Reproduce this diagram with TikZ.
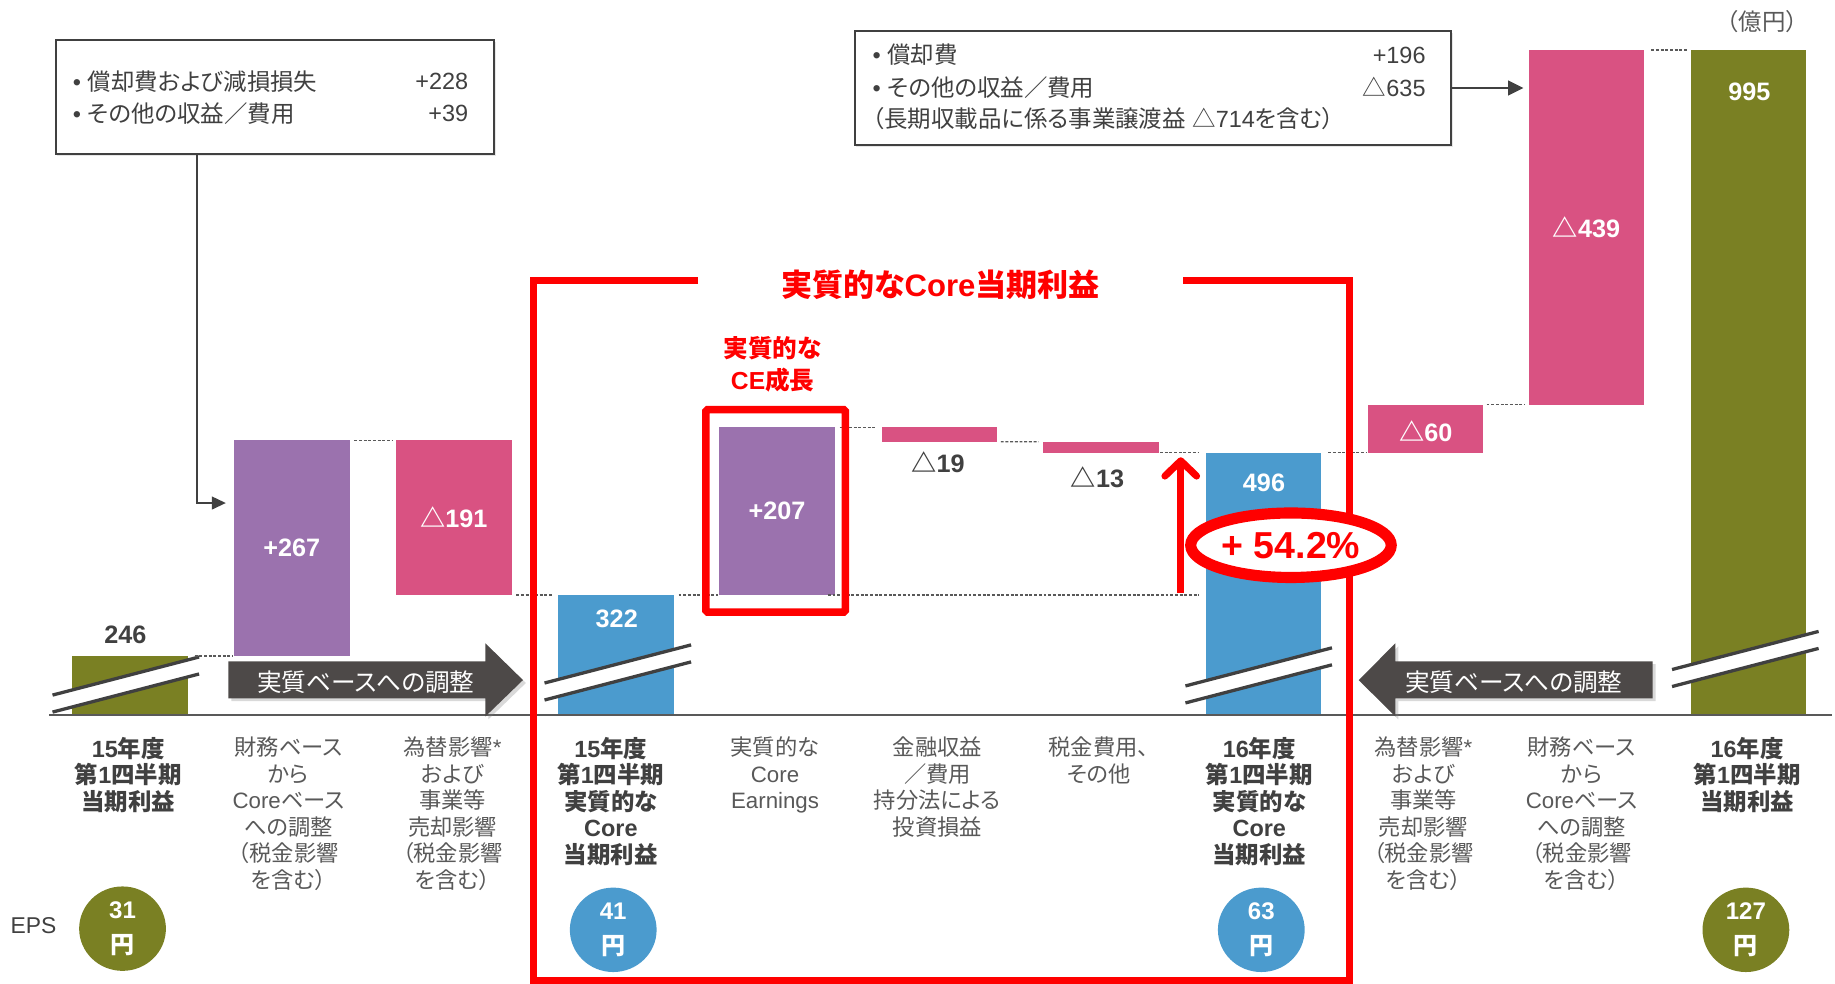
\documentclass[tikz,border=0pt]{standalone}
\usepackage{fontspec}
\setmainfont{Liberation Sans}
\newfontfamily\jpfont{Noto Sans CJK JP}[RawFeature=+palt]
\newfontfamily\jpfull{Noto Sans CJK JP}
\XeTeXinterchartokenstate=1
\newXeTeXintercharclass\cjkcls
\newcount\cjkc
\cjkc="2E80
\loop \XeTeXcharclass\cjkc=\cjkcls \advance\cjkc by 1 \ifnum\cjkc<"A000 \repeat
\cjkc="FF00
\loop \XeTeXcharclass\cjkc=\cjkcls \advance\cjkc by 1 \ifnum\cjkc<"FFF0 \repeat
\cjkc="25A0
\loop \XeTeXcharclass\cjkc=\cjkcls \advance\cjkc by 1 \ifnum\cjkc<"2600 \repeat
\XeTeXinterchartoks 0 \cjkcls={\jpfont}
\XeTeXinterchartoks 4095 \cjkcls={\jpfont}
\XeTeXinterchartoks \cjkcls 0={\rmfamily}
\XeTeXinterchartoks \cjkcls 4095={\rmfamily}
\usetikzlibrary{arrows.meta,shapes.geometric,shadows}
\definecolor{cOlive}{RGB}{122,128,35}
\definecolor{cPurple}{RGB}{155,114,174}
\definecolor{cPink}{RGB}{217,82,130}
\definecolor{cBlue}{RGB}{75,155,206}
\definecolor{cArrow}{RGB}{77,73,72}
\definecolor{cDark}{RGB}{64,64,64}
\definecolor{cText}{RGB}{89,89,89}
\definecolor{cRed}{RGB}{255,0,0}
\newcommand\fs[2]{\fontsize{#1}{#2}\selectfont}
\newcommand\brkmark[2]{%
  \fill[white] (#1,#2) -- ++(125,-32.5) -- ++(0,14.5) -- ++(-125,32.5) -- cycle;
  \draw[brkline] (#1,#2) -- ++(125,-32.5);
  \draw[brkline] (#1,#2+14.5) -- ++(125,-32.5);
}
\begin{document}
\begin{tikzpicture}[x=1pt,y=-1pt,
  bar/.style={rectangle, inner sep=0pt, outer sep=0pt, minimum width=98.5pt, anchor=south west},
  vlab/.style={text=white, font=\bfseries\fs{21.5}{24}, inner sep=0pt},
  dlab/.style={text=cDark, font=\bfseries\fs{21.5}{24}, inner sep=0pt},
  dline/.style={draw=cText, line width=1.1pt, dash pattern=on 2.5pt off 1.5pt},
  brkline/.style={draw=cDark, line width=2.8pt},
  cat/.style={align=center, anchor=north, inner sep=0pt, text=cText, font=\fs{19}{22.6}},
  catb/.style={cat, text=cDark, font=\bfseries\fs{20}{22.6}},
  epsc/.style={ellipse, minimum width=74pt, minimum height=72pt, inner sep=0pt, text=white, font=\bfseries\fs{20.5}{29.5}, align=center},
  abox/.style={draw=cDark, line width=1.7pt, inner sep=0pt, fill=white, anchor=north west,
     drop shadow={opacity=0.2, shadow xshift=1.5pt, shadow yshift=-1.5pt}},
  btxt/.style={text=cDark, font=\fs{20}{24}, inner sep=0pt},
  gline/.style={draw=cDark, line width=1.5pt},
  arrtxt/.style={text=white, font=\fs{21}{24}, inner sep=0pt},
  redline/.style={draw=cRed, line width=6.2pt},
]
\useasboundingbox (0,0) rectangle (1565,838.4);

% annotation boxes
\node[abox, minimum width=374pt, minimum height=97.3pt] (lbox) at (46.5,33.5) {};
\node[btxt, anchor=west] (l1) at (62,69.7) {• 償却費および減損損失};
\node[btxt, anchor=east] (l1v) at (399.5,69.7) {+228};
\node[btxt, anchor=west] (l2) at (62,96.6) {• その他の収益／費用};
\node[btxt, anchor=east] (l2v) at (399.5,96.6) {+39};

\node[abox, minimum width=508.7pt, minimum height=97.2pt] (rbox) at (728,25.6) {};
\node[btxt, anchor=west] (r1) at (744,47) {• 償却費};
\node[btxt, anchor=east] (r1v) at (1216,47) {+196};
\node[btxt, anchor=west] (r2) at (744,74.5) {• その他の収益／費用};
\node[btxt, anchor=east] (r2v) at (1216,74.5) {△635};
\node[btxt, anchor=west] (r3) at (744,101) {（長期収載品に係る事業譲渡益 △714を含む）};

\node[text=cText, font=\fs{20}{24}, inner sep=0pt] (unit) at (1503,18) {\let\jpfont\jpfull （億円）};

% bars
\node[bar, fill=cOlive,  minimum height=50.5pt]  (b0) at (61.5,610) {};
\node[bar, fill=cPurple, minimum height=184pt]   (b1) at (199.6,559.5) {};
\node[bar, fill=cPink,   minimum height=132pt]   (b2) at (337.8,507.5) {};
\node[bar, fill=cBlue,   minimum height=102.5pt] (b3) at (476.2,610) {};
\node[bar, fill=cPurple, minimum height=143pt]   (b4) at (613.5,507.5) {};
\node[bar, fill=cPink,   minimum height=12.2pt]  (b5) at (752,376.7) {};
\node[bar, fill=cPink,   minimum height=9.3pt]   (b6) at (889.8,386) {};
\node[bar, fill=cBlue,   minimum height=224pt]   (b7) at (1028.3,610) {};
\node[bar, fill=cPink,   minimum height=41pt]    (b8) at (1166.3,386) {};
\node[bar, fill=cPink,   minimum height=302.4pt] (b9) at (1303.8,345) {};
\node[bar, fill=cOlive,  minimum height=567.4pt] (b10) at (1442,610) {};

% break marks
\brkmark{44.8}{592.8}
\brkmark{464.4}{582.5}
\brkmark{1011}{585}
\brkmark{1426}{571}

% axis
\draw[draw=cText, line width=1.8pt] (42,610) -- (1562,610);

% dashed connectors
\draw[dline, shorten <=6pt, shorten >=1pt] (b0.north east) -- (b1.south west);
\draw[dline, shorten <=4pt, shorten >=3pt] (b1.north east) -- (b2.north west);
\draw[dline, shorten <=4pt, shorten >=4pt] (b2.south east) -- (b3.north west);
\draw[dline, shorten <=4pt, shorten >=1pt] (b3.north east) -- (b4.south west);
\draw[dline, shorten <=-6pt, shorten >=6pt] (b4.south east) -- (b4.south east -| b7.west);
\draw[dline, shorten <=4pt, shorten >=6pt] (b4.north east) -- (b5.north west);
\draw[dline, shorten <=3pt, shorten >=4pt] (b5.south east) -- (b6.north west);
\draw[dline, shorten <=1pt, shorten >=6pt] (b6.south east) -- (b7.north west);
\draw[dline, shorten <=6pt, shorten >=1pt] (b7.north east) -- (b8.south west);
\draw[dline, shorten <=3pt, shorten >=3pt] (b8.north east) -- (b9.south west);
\draw[dline, shorten <=6pt, shorten >=3pt] (b9.north east) -- (b10.north west);

% bar values
\node[dlab] (v0) at (107,541) {246};
\node[vlab] (v1) at (b1.center) {+267};
\node[vlab] (v2) at (b2.center) {△191};
\node[vlab] (v3) at (526,527.5) {322};
\node[vlab] (v4) at (b4.center) {+207};
\node[dlab] (v5) at (800,394) {△19};
\node[dlab] (v6) at (936,407) {△13};
\node[vlab] (v7) at (1078,412) {496};
\node[vlab] (v8) at (1216,368) {△60};
\node[vlab] (v9) at (b9.center) {△439};
\node[vlab] (v10) at (1492,78) {995};

% adjustment arrows
\fill[cArrow, drop shadow={opacity=0.3, shadow xshift=2.5pt, shadow yshift=-2.5pt}]
  (194.8,564) -- (414,564) -- (414,548.7) -- (446,580) -- (414,611) -- (414,595.5) -- (194.8,595.5) -- cycle;
\node[arrtxt] (adjL) at (312,582) {実質ベースへの調整};
\fill[cArrow, drop shadow={opacity=0.3, shadow xshift=2.5pt, shadow yshift=-2.5pt}]
  (1409.5,564) -- (1190,564) -- (1190,548.7) -- (1158.8,580) -- (1190,611) -- (1190,595.5) -- (1409.5,595.5) -- cycle;
\node[arrtxt] (adjR) at (1291,582) {実質ベースへの調整};

% annotation connectors
\draw[gline, -{Triangle[length=12pt,width=11pt]}, shorten >=7pt]
  ([xshift=121.5pt]lbox.south west) |- ([yshift=38.5pt]b1.west);
\draw[gline, -{Triangle[length=13pt,width=12.5pt]}, shorten >=4.5pt]
  (rbox.east) -- (rbox.east -| b9.west);

% categories
\node[catb] (c0) at (109.5,628.5) {15年度\\第1四半期\\当期利益};
\node[cat] (c1) at (246,628.5) {財務ベース\\から\\Coreベース\\への調整\\（税金影響\\を含む）};
\node[cat] (c2) at (386,628.5) {為替影響*\\および\\事業等\\売却影響\\（税金影響\\を含む）};
\node[catb] (c3) at (521,628.5) {15年度\\第1四半期\\実質的な\\Core\\当期利益};
\node[cat] (c4) at (661,628.5) {実質的な\\Core\\Earnings};
\node[cat] (c5) at (799.5,628.5) {金融収益\\／費用\\持分法による\\投資損益};
\node[cat] (c6) at (937,628.5) {税金費用、\\その他};
\node[catb] (c7) at (1074,628.5) {16年度\\第1四半期\\実質的な\\Core\\当期利益};
\node[cat] (c8) at (1214,628.5) {為替影響*\\および\\事業等\\売却影響\\（税金影響\\を含む）};
\node[cat] (c9) at (1349,628.5) {財務ベース\\から\\Coreベース\\への調整\\（税金影響\\を含む）};
\node[catb] (c10) at (1490,628.5) {16年度\\第1四半期\\当期利益};

% EPS
\node[text=cDark, font=\fs{19.5}{24}, inner sep=0pt] (epsl) at (28.6,789.5) {EPS};
\node[epsc, fill=cOlive] (e0) at (104.5,792) {31\\円};
\node[epsc, fill=cBlue] (e1) at (523,793) {41\\円};
\node[epsc, fill=cBlue] (e2) at (1075.7,793) {63\\円};
\node[epsc, fill=cOlive] (e3) at (1489,793) {127\\円};

% red bracket and title
\draw[redline] (595.4,239) -- (455,239) -- (455,836) -- (1151,836) -- (1151,239) -- (1009,239);
\node[text=cRed, font=\bfseries\fs{26.5}{30}, inner sep=0pt] (title) at (802,243) {実質的なCore当期利益};
\node[text=cRed, font=\bfseries\fs{21}{27}, align=center, inner sep=0pt] (cetitle) at (659,310.5) {実質的な\\CE成長};
\node[draw=cRed, line width=6.5pt, minimum width=119pt, minimum height=172.7pt, inner sep=0pt, rounded corners=1.5pt] (cebox) at (661.5,435.7) {};

% growth arrow
\coordinate (g0) at (1007,506);
\coordinate (g1) at (1007,390);
\draw[draw=cRed, line width=6pt, -{Straight Barb[length=13pt,width=27pt,round]}] (g0) -- (g1);
\node[ellipse, draw=cRed, fill=white, line width=9.5pt, minimum width=171pt, minimum height=55pt, inner sep=0pt,
  text=cRed, font=\bfseries\fs{32}{36}] (pct) at (1101,465) {+ 54.2\%};
\end{tikzpicture}
\end{document}
